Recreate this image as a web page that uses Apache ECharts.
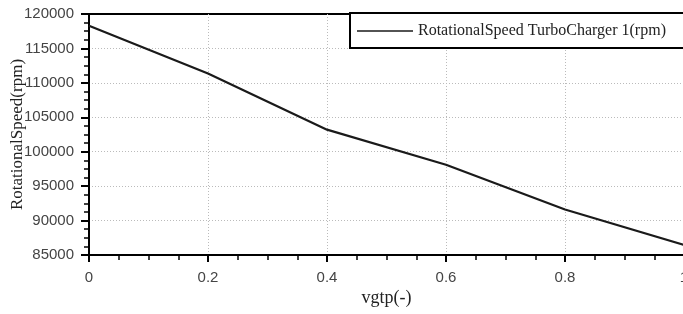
<!DOCTYPE html>
<html>
<head>
<meta charset="utf-8">
<script src="https://cdn.jsdelivr.net/npm/echarts@6/dist/echarts.min.js"></script>
<style>
  html, body { margin: 0; padding: 0; background: #fff; }
  #chart { width: 683px; height: 314px; }
</style>
</head>
<body>
<div id="chart"></div>
<script>
// vgtp position vs turbo speed
const vgtp = [0, 0.2, 0.4, 0.6, 0.8, 1.0]
const speed = [118300, 111350, 103200, 98100, 91600, 86450]
const seriesName = 'RotationalSpeed TurboCharger 1(rpm)'

const chart = echarts.init(document.getElementById('chart'))

const tickLabel = {
  color: '#444',
  fontFamily: 'Liberation Sans, Arial, sans-serif',
  fontSize: 15
}
const dotted = {
  show: true,
  showMinLine: false,
  showMaxLine: false,
  lineStyle: { color: '#bbb', type: [1, 2], width: 1 }
}

chart.setOption({
  animation: false,
  grid: {
    left: 89,
    right: -1,
    top: 14,
    bottom: 59,
    outerBoundsMode: 'none',
    containLabel: false,
    show: true,
    borderColor: '#000',
    borderWidth: 2,
    backgroundColor: 'transparent'
  },
  legend: {
    left: 350,
    top: 13,
    padding: [10, 40, 9, 7],
    borderColor: '#000',
    borderWidth: 2,
    backgroundColor: '#fff',
    icon: 'rect',
    itemWidth: 56,
    itemHeight: 1.5,
    itemGap: 8,
    textStyle: {
      color: '#222',
      fontFamily: 'Liberation Serif, Times New Roman, serif',
      fontSize: 16
    },
    data: [seriesName]
  },
  xAxis: {
    type: 'value',
    min: 0,
    max: 1,
    interval: 0.2,
    name: 'vgtp(-)',
    nameLocation: 'middle',
    nameGap: 34,
    nameMoveOverlap: false,
    nameTextStyle: {
      color: '#222',
      fontFamily: 'Liberation Serif, Times New Roman, serif',
      fontSize: 18
    },
    axisLine: { show: true, onZero: false, lineStyle: { color: '#000', width: 2 } },
    axisTick: { show: true, inside: false, length: 7, lineStyle: { color: '#000', width: 2 } },
    minorTick: { show: true, splitNumber: 4, length: 5, lineStyle: { color: '#000', width: 1.5 } },
    axisLabel: Object.assign({ margin: 15, showMaxLabel: true, formatter: v => String(+v.toFixed(1)) }, tickLabel),
    splitLine: dotted
  },
  yAxis: {
    type: 'value',
    min: 85000,
    max: 120000,
    interval: 5000,
    name: 'RotationalSpeed(rpm)',
    nameLocation: 'middle',
    nameGap: 63,
    nameMoveOverlap: false,
    nameTextStyle: {
      color: '#222',
      fontFamily: 'Liberation Serif, Times New Roman, serif',
      fontSize: 17
    },
    axisLine: { show: true, lineStyle: { color: '#000', width: 2 } },
    axisTick: { show: true, inside: false, length: 8, lineStyle: { color: '#000', width: 2 } },
    minorTick: { show: true, splitNumber: 4, length: 5, lineStyle: { color: '#000', width: 1.5 } },
    axisLabel: Object.assign({ margin: 15, formatter: v => String(v) }, tickLabel),
    splitLine: dotted
  },
  series: [
    {
      name: seriesName,
      type: 'line',
      data: vgtp.map((x, i) => [x, speed[i]]),
      symbol: 'none',
      lineStyle: { color: '#1a1a1a', width: 2.2 },
      itemStyle: { color: '#1a1a1a' }
    }
  ]
})
</script>
</body>
</html>
